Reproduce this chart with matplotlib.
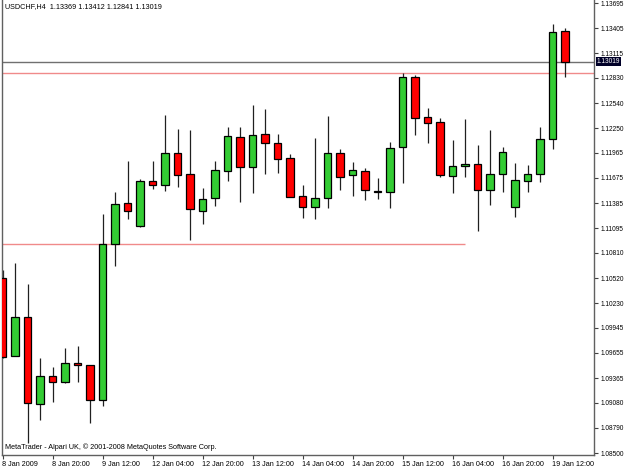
import matplotlib
matplotlib.use("Agg")
import matplotlib.pyplot as plt
import matplotlib.transforms as mtransforms

symbol_title = "USDCHF,H4  1.13369 1.13412 1.12841 1.13019"
footer = "MetaTrader - Alpari UK, \u00a9 2001-2008 MetaQuotes Software Corp."

opens = [1.10524, 1.09620, 1.10070, 1.09062, 1.09389, 1.09323, 1.09536, 1.09512,
         1.09112, 1.10913, 1.11383, 1.11121, 1.11640, 1.11590, 1.11960, 1.11717,
         1.11290, 1.11440, 1.11759, 1.12148, 1.11805, 1.12179, 1.12079, 1.11902,
         1.11470, 1.11337, 1.11447, 1.11963, 1.11706, 1.11756, 1.11528, 1.11510,
         1.12029, 1.12837, 1.12375, 1.12321, 1.11701, 1.11813, 1.11833, 1.11533,
         1.11717, 1.11343, 1.11644, 1.11717, 1.12121, 1.13369]
highs = [1.10613, 1.10697, 1.10448, 1.09593, 1.09496, 1.09709, 1.09735, 1.09515,
         1.11259, 1.11513, 1.11871, 1.11660, 1.11871, 1.12399, 1.12244, 1.12229,
         1.11565, 1.11871, 1.12267, 1.12267, 1.12517, 1.12475, 1.12179, 1.11948,
         1.11594, 1.12133, 1.12390, 1.12006, 1.11863, 1.11787, 1.11671, 1.12094,
         1.12883, 1.12864, 1.12479, 1.12364, 1.12113, 1.12359, 1.12056, 1.12229,
         1.12029, 1.11851, 1.11821, 1.12267, 1.13452, 1.13412]
lows = [1.09597, 1.09615, 1.08612, 1.08881, 1.09092, 1.09305, 1.09323, 1.08850,
        1.09046, 1.10659, 1.11201, 1.11115, 1.11544, 1.11525, 1.11574, 1.10959,
        1.11144, 1.11348, 1.11640, 1.11394, 1.11505, 1.11721, 1.11729, 1.11455,
        1.11210, 1.11198, 1.11325, 1.11536, 1.11467, 1.11421, 1.11429, 1.11325,
        1.11614, 1.12171, 1.12075, 1.11683, 1.11505, 1.11690, 1.11063, 1.11363,
        1.11517, 1.11221, 1.11517, 1.11632, 1.12006, 1.12841]
closes = [1.09612, 1.10074, 1.09074, 1.09389, 1.09323, 1.09536, 1.09512, 1.09108,
          1.10913, 1.11371, 1.11294, 1.11640, 1.11590, 1.11960, 1.11706, 1.11313,
          1.11436, 1.11764, 1.12156, 1.11805, 1.12168, 1.12075, 1.11894, 1.11459,
          1.11343, 1.11447, 1.11963, 1.11683, 1.11770, 1.11536, 1.11510, 1.12018,
          1.12837, 1.12364, 1.12306, 1.11709, 1.11813, 1.11840, 1.11533, 1.11717,
          1.11978, 1.11652, 1.11717, 1.12121, 1.13357, 1.13019]

ytick_values = [1.08500, 1.08790, 1.09080, 1.09365, 1.09655, 1.09945, 1.10230,
                1.10520, 1.10810, 1.11095, 1.11385, 1.11675, 1.11965, 1.12250,
                1.12540, 1.12830, 1.13115, 1.13405, 1.13695]
xtick_bars = [0, 4, 8, 12, 16, 20, 24, 28, 32, 36, 40, 44]
xtick_labels = ["8 Jan 2009", "8 Jan 20:00", "9 Jan 12:00", "12 Jan 04:00",
                "12 Jan 20:00", "13 Jan 12:00", "14 Jan 04:00", "14 Jan 20:00",
                "15 Jan 12:00", "16 Jan 04:00", "16 Jan 20:00", "19 Jan 12:00"]

current_price = 1.13019
level_upper = 1.12887
level_lower = 1.10913
level_lower_end_bar = 37

FONT = ["Liberation Sans", "DejaVu Sans"]
FS = 5.2
FSY = 4.7

fig = plt.figure(figsize=(6.25, 4.69), dpi=100, facecolor="white")
ax = fig.add_axes([2 / 625, 14 / 469, 592 / 625, 455 / 469])
ax.set_facecolor("white")

n = len(opens)
xs = list(range(n))

# horizontal levels
ax.axhline(level_upper, color="#f08a8a", lw=1.0, zorder=1)
ax.hlines(level_lower, -1, level_lower_end_bar, color="#f08a8a", lw=1.0, zorder=1)
ax.axhline(current_price, color="#707070", lw=1.0, zorder=1)

# wicks
ax.vlines(xs, lows, highs, color="#202020", lw=0.9, zorder=2)

# bodies
bottoms = [min(o, c) for o, c in zip(opens, closes)]
heights = [max(abs(c - o), 0.00003) for o, c in zip(opens, closes)]
colors = ["#33cc33" if c >= o else "#ff0000" for o, c in zip(opens, closes)]
ax.bar(xs, heights, bottom=bottoms, width=0.62, color=colors,
       edgecolor="black", linewidth=0.9, zorder=3)

ax.set_xlim(-0.04, 47.32)
ax.set_ylim(1.08477, 1.13730)

ax.yaxis.tick_right()
ax.set_yticks(ytick_values)
ax.set_yticklabels([f"{v:.5f}" for v in ytick_values], fontsize=FSY, family=FONT)
ax.set_xticks(xtick_bars)
ax.set_xticklabels(xtick_labels, fontsize=FS, family=FONT, ha="left")
for lab in ax.get_xticklabels():
    lab.set_horizontalalignment("left")

ax.tick_params(axis="y", direction="out", length=3, width=0.8, color="#404040",
               pad=1.5, labelcolor="black")
ax.tick_params(axis="x", direction="out", length=3, width=0.8, color="#404040",
               pad=1.5, labelcolor="black")

for side in ["left", "right", "bottom"]:
    ax.spines[side].set_color("#606060")
    ax.spines[side].set_linewidth(1.0)
ax.spines["top"].set_visible(False)

# current price label
trans = mtransforms.blended_transform_factory(ax.transAxes, ax.transData)
ax.text(1.0045, current_price, f"{current_price:.5f}", transform=trans,
        ha="left", va="center", fontsize=FSY, family=FONT, color="white",
        bbox=dict(boxstyle="square,pad=0.15", fc="#000028", ec="none"),
        clip_on=False, zorder=10)

ax.text(0.005, 0.993, symbol_title, transform=ax.transAxes, ha="left", va="top",
        fontsize=FS, family=FONT, color="black")
ax.text(0.005, 0.008, footer, transform=ax.transAxes, ha="left", va="bottom",
        fontsize=FS, family=FONT, color="black")

fig.savefig("out.png", dpi=100, facecolor="white")
